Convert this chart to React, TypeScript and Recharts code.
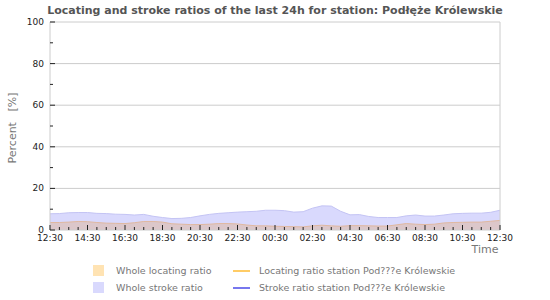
import { ComposedChart, Area, XAxis, YAxis, CartesianGrid, ReferenceLine } from "recharts";

// half-hour steps from 12:30 to 12:30 next day
const timeLabels = [
  "12:30", "13:00", "13:30", "14:00", "14:30", "15:00", "15:30", "16:00", "16:30", "17:00",
  "17:30", "18:00", "18:30", "19:00", "19:30", "20:00", "20:30", "21:00", "21:30", "22:00",
  "22:30", "23:00", "23:30", "00:00", "00:30", "01:00", "01:30", "02:00", "02:30", "03:00",
  "03:30", "04:00", "04:30", "05:00", "05:30", "06:00", "06:30", "07:00", "07:30", "08:00",
  "08:30", "09:00", "09:30", "10:00", "10:30", "11:00", "11:30", "12:00", "12:30"
];

const wholeStroke = [
  7.8, 7.9, 8.3, 8.4, 8.4, 8.0, 7.9, 7.6, 7.5, 7.2,
  7.5, 6.6, 6.0, 5.5, 5.6, 6.0, 6.8, 7.5, 8.0, 8.3,
  8.6, 8.8, 9.0, 9.5, 9.5, 9.3, 8.6, 8.8, 10.5, 11.6,
  11.5, 9.0, 7.3, 7.4, 6.5, 6.0, 6.0, 6.0, 6.8, 7.2,
  6.7, 6.7, 7.2, 7.8, 8.0, 8.1, 8.1, 8.5, 9.5
];

const wholeLocating = [
  3.6, 3.6, 3.8, 4.1, 4.0, 3.6, 3.3, 3.2, 3.1, 3.5,
  4.1, 4.1, 3.8, 3.0, 2.8, 2.6, 2.6, 2.8, 3.1, 3.1,
  2.9, 2.4, 2.0, 2.0, 1.8, 1.7, 1.6, 1.5, 2.0, 2.3,
  2.0, 1.8, 2.1, 2.1, 2.0, 1.9, 1.9, 2.5, 3.1, 2.8,
  2.6, 2.8, 3.4, 3.6, 3.7, 3.8, 3.8, 4.2, 4.6
];

const yTicks = [0, 10, 20, 30, 40, 50, 60, 70, 80, 90, 100];

const legendItems = [
  { label: "Whole locating ratio", kind: "box", color: "#ffe3b3" },
  { label: "Locating ratio station Pod???e Królewskie", kind: "line", color: "#ffcc66" },
  { label: "Whole stroke ratio", kind: "box", color: "#d9d9fd" },
  { label: "Stroke ratio station Pod???e Królewskie", kind: "line", color: "#7777ee" }
];

const data = timeLabels.map((t, i) => ({
  idx: i,
  time: t,
  stroke: wholeStroke[i],
  locating: wholeLocating[i]
}));

const FONT = "DejaVu Sans, sans-serif";

const XTick = ({ x, y, payload }: any) => {
  const i = payload.value as number;
  const major = i % 4 === 0;
  return (
    <g>
      <line x1={x} x2={x} y1={y} y2={y - (major ? 5 : 3)} stroke="#222" strokeWidth={1} />
      {major && (
        <text x={x} y={y + 11} textAnchor="middle" fontSize={9} fontFamily={FONT} fill="#222">
          {timeLabels[i]}
        </text>
      )}
    </g>
  );
};

const YTick = ({ x, y, payload }: any) => {
  const v = payload.value as number;
  const major = v % 20 === 0;
  return (
    <g>
      <line x1={x} x2={x + (major ? 5 : 3)} y1={y} y2={y} stroke="#222" strokeWidth={1} />
      {major && (
        <text x={x - 6} y={y + 3} textAnchor="end" fontSize={9} fontFamily={FONT} fill="#222">
          {v}
        </text>
      )}
    </g>
  );
};

const ChartLegend = () => (
  <div style={{ position: "absolute", left: 0, top: 265, width: 550, height: 35, fontFamily: FONT, fontSize: 9.5, color: "#777" }}>
    {legendItems.map((item, i) => {
      const col = i % 2;
      const row = Math.floor(i / 2);
      const left = col === 0 ? 93 : 233;
      const top = row * 17;
      return (
        <div key={i} style={{ position: "absolute", left, top, height: 11, display: "flex", alignItems: "center", whiteSpace: "nowrap" }}>
          {item.kind === "box" ? (
            <div style={{ width: 11, height: 11, background: item.color }} />
          ) : (
            <div style={{ width: 17, height: 2, background: item.color }} />
          )}
          <span style={{ marginLeft: item.kind === "box" ? 12 : 9 }}>{item.label}</span>
        </div>
      );
    })}
  </div>
);

export default function App() {
  return (
    <div style={{ position: "absolute", left: 0, top: 0, width: 550, height: 300, background: "#fff" }}>
      <ComposedChart width={550} height={300} data={data} margin={{ top: 22, right: 50, left: 0, bottom: 0 }}>
        <text x={275} y={14} textAnchor="middle" fontSize={11} fontWeight="bold" fontFamily={FONT} fill="#555">
          Locating and stroke ratios of the last 24h for station: Podłęże Królewskie
        </text>
        <CartesianGrid vertical={false} horizontalValues={[20, 40, 60, 80]} stroke="#cccccc" />
        <XAxis
          dataKey="idx"
          type="number"
          domain={[0, 48]}
          ticks={data.map((d) => d.idx)}
          interval={0}
          height={70}
          tickSize={0}
          tickMargin={0}
          tickLine={false}
          axisLine={{ stroke: "#cccccc" }}
          tick={<XTick />}
        />
        <YAxis
          type="number"
          domain={[0, 100]}
          ticks={yTicks}
          interval={0}
          width={50}
          tickSize={0}
          tickMargin={0}
          tickLine={false}
          axisLine={{ stroke: "#cccccc" }}
          tick={<YTick />}
        />
        <ReferenceLine y={100} stroke="#cccccc" />
        <ReferenceLine x={48} stroke="#cccccc" />
        <Area
          type="linear"
          dataKey="stroke"
          fill="#d9d9fd"
          fillOpacity={1}
          stroke="#c4c4f4"
          strokeWidth={1}
          isAnimationActive={false}
          dot={false}
          activeDot={false}
        />
        <Area
          type="linear"
          dataKey="locating"
          fill="#dcc7ca"
          fillOpacity={1}
          stroke="#e0b8a0"
          strokeWidth={1}
          isAnimationActive={false}
          dot={false}
          activeDot={false}
        />
        <text x={485} y={253} textAnchor="middle" fontSize={11} fontFamily={FONT} fill="#777">
          Time
        </text>
        <text
          x={16}
          y={128}
          textAnchor="middle"
          fontSize={11}
          fontFamily={FONT}
          fill="#777"
          transform="rotate(-90 16 128)"
          style={{ whiteSpace: "pre" }}
        >
          {"Percent   [%]"}
        </text>
      </ComposedChart>
      <ChartLegend />
    </div>
  );
}
